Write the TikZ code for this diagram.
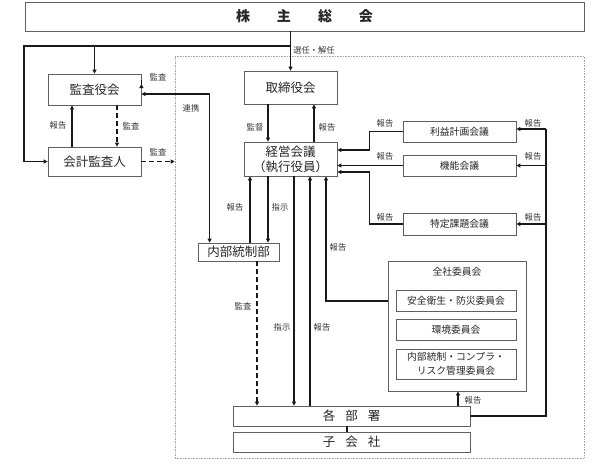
\documentclass[tikz,border=0pt]{standalone}
\usepackage{fontspec}
\setmainfont{Noto Sans CJK JP}
\usetikzlibrary{arrows.meta,calc}
\begin{document}
\begin{tikzpicture}[x=1pt,y=-1pt,
  box/.style={draw=gray!75!black,line width=0.8pt,fill=white,inner sep=0pt,align=center,text=black!85},
  bigtxt/.style={font=\fontsize{12.5}{15}\selectfont},
  midtxt/.style={font=\fontsize{9.8}{12}\selectfont},
  lbl/.style={font=\fontsize{8.3}{9}\selectfont,text=black!80,inner sep=0pt},
  conn/.style={line width=1.4pt,black!90},
  tip/.style={-{Triangle[length=4pt,width=4pt]}},
  tips/.style={{Triangle[length=4pt,width=4pt]}-{Triangle[length=4pt,width=4pt]}},
  dsh/.style={line width=1.5pt,black!90,dash pattern=on 5pt off 3pt}
]
\useasboundingbox (0,0) rectangle (601,464);
% frame
\node[draw=gray!70,line width=0.6pt,dash pattern=on 0.8pt off 0.8pt,minimum width=409pt,minimum height=402pt,inner sep=0pt] (frame) at (379.5,257) {};
% boxes
\node[box,minimum width=559pt,minimum height=29pt,font=\fontsize{14}{16}\selectfont\bfseries] (soukai) at (304.5,16.5) {株\hspace{27pt}主\hspace{27pt}総\hspace{27pt}会};
\node[box,bigtxt,minimum width=93pt,minimum height=31pt] (kansayaku) at (94.5,89.5) {監査役会};
\node[box,bigtxt,minimum width=93pt,minimum height=29pt] (kaikei) at (94.5,161.5) {会計監査人};
\node[box,bigtxt,minimum width=93pt,minimum height=33pt] (torishimari) at (290.5,87.5) {取締役会};
\node[box,font=\fontsize{12.5}{15}\selectfont,minimum width=93pt,minimum height=34pt] (keiei) at (290.5,159) {経営会議\\（執行役員）};
\node[box,bigtxt,minimum width=81pt,minimum height=18pt] (naibu) at (238.5,252) {内部統制部};
\node[box,midtxt,minimum width=113pt,minimum height=21pt] (rieki) at (459.5,131.5) {利益計画会議};
\node[box,midtxt,minimum width=113pt,minimum height=21pt] (kino) at (459.5,165.5) {機能会議};
\node[box,midtxt,minimum width=113pt,minimum height=22pt] (tokutei) at (459.5,224) {特定課題会議};
\node[box,minimum width=138pt,minimum height=130pt] (zensha) at (457,326) {};
\node[midtxt,text=black!85,inner sep=0pt] (zenshat) at (457,272) {全社委員会};
\node[box,midtxt,minimum width=120pt,minimum height=21pt] (anzen) at (456,300.5) {安全衛生・防災委員会};
\node[box,midtxt,minimum width=120pt,minimum height=21pt] (kankyo) at (456,329.5) {環境委員会};
\node[box,font=\fontsize{9.8}{13.5}\selectfont,minimum width=120pt,minimum height=30pt] (risk) at (456,364) {内部統制・コンプラ・\\リスク管理委員会};
\node[box,bigtxt,minimum width=237pt,minimum height=20pt] (kakubusho) at (351.5,416) {各\hspace{10pt}部\hspace{10pt}署};
\node[box,bigtxt,minimum width=237pt,minimum height=20pt] (kogaisha) at (351.5,442) {子\hspace{10pt}会\hspace{10pt}社};
% helper coordinates
\coordinate (J) at (291,46);
\coordinate (L) at (24,46);
\coordinate (R) at (546,129);
\coordinate (c250) at (250,0);
\coordinate (c257) at (257,0);
\coordinate (c268) at (268,0);
\coordinate (c294) at (294,0);
\coordinate (c310) at (310,0);
\coordinate (c326) at (326,0);
\coordinate (c347) at (347,0);
\coordinate (c458) at (458,0);
% shareholders
\draw[conn,tip] (soukai.south -| torishimari.north) -- (torishimari.north);
\draw[conn,tip] (J) -- (L) |- (kaikei.west);
\draw[conn,tip] (L -| kansayaku.north) -- (kansayaku.north);
\node[lbl] at (314,50) {選任・解任};
% auditors
\draw[dsh,tip] ($(kansayaku.east)+(0,-5.5)$) -- ($(kansayaku.east)+(0,-5.5)$ -| frame.west);
\node[lbl] at (158,77) {監査};
\draw[conn,tips] ($(kansayaku.east)+(0,4.5)$) -| ($(naibu.north west)+(12,0)$);
\node[lbl] at (191,108) {連携};
\draw[conn,tip] ($(kaikei.north)+(-22.5,0)$) -- ($(kansayaku.south)+(-22.5,0)$);
\node[lbl] at (58,125) {報告};
\draw[dsh,tip] ($(kansayaku.south)+(22.5,0)$) -- ($(kaikei.north)+(22.5,0)$);
\node[lbl] at (131,126) {監査};
\draw[dsh,tip] (kaikei.east) -- (kaikei.east -| frame.west);
\node[lbl] at (158,152) {監査};
% board
\draw[conn,tip] (torishimari.south -| c268) -- (keiei.north -| c268);
\node[lbl] at (255,127) {監督};
\draw[conn,tip] ($(keiei.north)+(23.5,0)$) -- ($(torishimari.south)+(23.5,0)$);
\node[lbl] at (327,127) {報告};
% meetings to keiei
\draw[conn,tip] (rieki.west) -- ++(-33,0) |- ($(keiei.east)+(0,-9)$);
\draw[conn,tip] (kino.west) -- (kino.west -| keiei.east);
\draw[conn,tip] (tokutei.west) -- ++(-33,0) |- ($(keiei.east)+(0,13)$);
\node[lbl] at (385,123) {報告};
\node[lbl] at (385,156) {報告};
\node[lbl] at (385,217) {報告};
% right bus
\draw[conn] (kakubusho.east) -| (R);
\draw[conn,tip] (R) -- (R -| rieki.east);
\draw[conn,tip] (R |- kino.east) -- (kino.east);
\draw[conn,tip] (R |- tokutei.east) -- (tokutei.east);
\node[lbl] at (533,123) {報告};
\node[lbl] at (533,156) {報告};
\node[lbl] at (533,217) {報告};
% internal control
\draw[conn,tip] (naibu.north -| c250) -- (keiei.south -| c250);
\draw[conn,tip] (keiei.south -| c268) -- (naibu.north -| c268);
\node[lbl] at (235,207) {報告};
\node[lbl] at (280,207) {指示};
\draw[dsh,tip] (naibu.south -| c257) -- (kakubusho.north -| c257);
\node[lbl] at (243,306) {監査};
% departments
\draw[conn,tip] (keiei.south -| c294) -- (kakubusho.north -| c294);
\node[lbl] at (282,327) {指示};
\draw[conn,tip] (kakubusho.north -| c310) -- (keiei.south -| c310);
\node[lbl] at (322,327) {報告};
\draw[conn,tip] ($(zensha.west)+(0,-25)$) -| (keiei.south -| c326);
\node[lbl] at (338,247) {報告};
\draw[conn,tip] (kakubusho.north -| c458) -- (zensha.south -| c458);
\node[lbl] at (473,400) {報告};
\draw[conn] (kakubusho.south -| c347) -- (kogaisha.north -| c347);
\end{tikzpicture}
\end{document}
